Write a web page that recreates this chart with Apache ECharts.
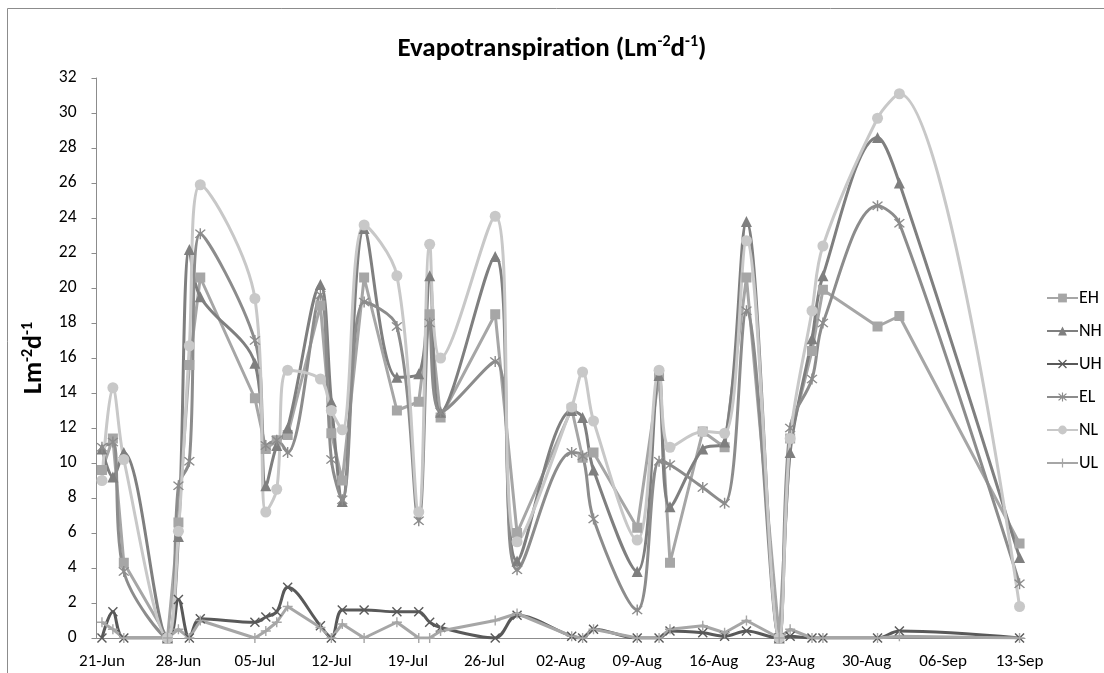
<!DOCTYPE html>
<html>
<head>
<meta charset="utf-8">
<script src="https://cdn.jsdelivr.net/npm/echarts@6/dist/echarts.min.js"></script>
<style>
  html, body { margin: 0; padding: 0; background: #ffffff; }
  #chart { width: 1104px; height: 673px; }
</style>
</head>
<body>
<div id="chart"></div>
<script>
// Sampling dates (day-month) and daily evapotranspiration per treatment, L m-2 d-1
const sampleDates = ['21-Jun','22-Jun','23-Jun','27-Jun','28-Jun','29-Jun','30-Jun',
  '05-Jul','06-Jul','07-Jul','08-Jul','11-Jul','12-Jul','13-Jul','15-Jul','18-Jul',
  '20-Jul','21-Jul','22-Jul','27-Jul','29-Jul','03-Aug','04-Aug','05-Aug','09-Aug',
  '11-Aug','12-Aug','15-Aug','17-Aug','19-Aug','22-Aug','23-Aug','25-Aug','26-Aug',
  '31-Aug','02-Sep','13-Sep'];

const EH = [9.6, 11.4, 4.3, 0, 6.6, 15.6, 20.6,
  13.7, 10.8, 11.3, 11.6, 19.0, 11.7, 9.0, 20.6, 13.0,
  13.5, 18.5, 12.6, 18.5, 6.0, 13.1, 10.3, 10.6, 6.3,
  15.0, 4.3, 11.8, 10.9, 20.6, 0, 11.4, 16.4, 19.9,
  17.8, 18.4, 5.4];
const NH = [10.8, 9.2, 10.6, 0, 5.8, 22.2, 19.5,
  15.7, 8.7, 11.0, 12.0, 20.2, 13.5, 7.8, 23.4, 14.9,
  15.1, 20.7, 12.9, 21.8, 4.4, 13.0, 12.6, 9.6, 3.8,
  15.0, 7.5, 10.8, 11.2, 23.8, 0, 10.6, 17.1, 20.7,
  28.6, 26.0, 4.6];
const UH = [0, 1.5, 0, 0, 2.2, 0, 1.1,
  0.9, 1.2, 1.5, 2.9, 0.7, 0, 1.6, 1.6, 1.5,
  1.5, 0.9, 0.6, 0, 1.3, 0.1, 0, 0.5, 0,
  0, 0.4, 0.3, 0.1, 0.4, 0, 0.1, 0, 0,
  0, 0.4, 0];
const EL = [10.9, 11.2, 3.8, 0, 8.7, 10.1, 23.1,
  17.0, 11.0, 11.3, 10.6, 19.6, 10.2, 7.9, 19.2, 17.8,
  6.7, 18.0, 12.9, 15.8, 3.9, 10.6, 10.4, 6.8, 1.6,
  10.1, 9.9, 8.6, 7.7, 18.7, 0, 12.0, 14.8, 18.0,
  24.7, 23.7, 3.1];
const NL = [9.0, 14.3, 10.2, 0, 6.1, 16.7, 25.9,
  19.4, 7.2, 8.5, 15.3, 14.8, 13.0, 11.9, 23.6, 20.7,
  7.2, 22.5, 16.0, 24.1, 5.5, 13.2, 15.2, 12.4, 5.6,
  15.3, 10.9, 11.8, 11.7, 22.7, 0, 11.4, 18.7, 22.4,
  29.7, 31.1, 1.8];
const UL = [0.9, 0.5, 0, 0, 0.5, 0, 1.0,
  0, 0.4, 0.9, 1.8, 0.6, 0, 0.8, 0, 0.9,
  0, 0, 0.4, 1.0, 1.4, 0.1, 0, 0.5, 0,
  0, 0.5, 0.7, 0.3, 1.0, 0, 0.5, 0, 0,
  0, 0.1, 0];

const yTicks = { min: 0, max: 32, step: 2 };

// Daily category axis: one slot per day from the first to the last sampling date
const MONTHS = ['Jan','Feb','Mar','Apr','May','Jun','Jul','Aug','Sep','Oct','Nov','Dec'];
function dayLabel(dt) {
  const d = dt.getUTCDate();
  return (d < 10 ? '0' + d : '' + d) + '-' + MONTHS[dt.getUTCMonth()];
}
const axisDays = [];
(function () {
  const start = Date.UTC(2001, 5, 21);
  const end = Date.UTC(2001, 8, 13);
  for (let t = start; t <= end; t += 86400000) axisDays.push(dayLabel(new Date(t)));
})();

// Marker shapes drawn as filled outlines
const SYM_X = 'path://M1,0 L5,4 L9,0 L10,1 L6,5 L10,9 L9,10 L5,6 L1,10 L0,9 L4,5 L0,1 Z';
const SYM_STAR = 'path://M1,0 L5,4 L9,0 L10,1 L6,5 L10,9 L9,10 L5,6 L1,10 L0,9 L4,5 L0,1 Z M4.35,-1 L5.65,-1 L5.65,11 L4.35,11 Z';
const SYM_PLUS = 'path://M4.3,0 L5.7,0 L5.7,4.3 L10,4.3 L10,5.7 L5.7,5.7 L5.7,10 L4.3,10 L4.3,5.7 L0,5.7 L0,4.3 L4.3,4.3 Z';

const FONT = 'Carlito, Calibri, Lato, "Open Sans", sans-serif';

function lineSeries(name, values, symbol, size, color, smooth) {
  return {
    name: name,
    type: 'line',
    data: sampleDates.map(function (d, i) { return [d, values[i]]; }),
    symbol: symbol,
    symbolSize: size,
    showSymbol: true,
    showAllSymbol: true,
    smooth: smooth ? 0.35 : false,
    lineStyle: { width: 3, color: color },
    itemStyle: { color: color, borderWidth: 0 },
    emphasis: { disabled: true },
    animation: false
  };
}

const chart = echarts.init(document.getElementById('chart'), null, { renderer: 'canvas' });

chart.setOption({
  backgroundColor: '#ffffff',
  animation: false,
  textStyle: { fontFamily: FONT },
  title: {
    text: '{t|Evapotranspiration (Lm}{s|-2}{t|d}{s|-1}{t|)}',
    left: 'center',
    top: 29,
    textStyle: {
      fontFamily: FONT,
      rich: {
        t: { fontSize: 27, fontWeight: 'bold', color: '#000', fontFamily: FONT, lineHeight: 31 },
        s: { fontSize: 16, fontWeight: 'bold', color: '#000', fontFamily: FONT, verticalAlign: 'top', lineHeight: 17 }
      }
    }
  },
  legend: {
    orient: 'vertical',
    left: 1041,
    top: 284,
    itemWidth: 31,
    itemHeight: 11,
    itemGap: 15,
    textStyle: { fontSize: 18, color: '#000', fontFamily: FONT, padding: [0, 0, 0, -4] },
    data: ['EH', 'NH', 'UH', 'EL', 'NL', 'UL']
  },
  graphic: [{
    type: 'rect',
    shape: { x: 7.5, y: 8.5, width: 1200, height: 800 },
    style: { fill: null, stroke: '#8c8c8c', lineWidth: 1 },
    silent: true,
    z: -10
  }],
  grid: { left: 96.5, right: 79, top: 78, bottom: 35, containLabel: false },
  xAxis: {
    type: 'category',
    data: axisDays,
    boundaryGap: true,
    axisLine: { show: true, lineStyle: { color: '#8c8c8c', width: 1 } },
    axisTick: { show: false },
    splitLine: { show: false },
    axisLabel: {
      interval: function (index) { return index % 7 === 0; },
      fontSize: 17,
      color: '#000',
      fontFamily: FONT,
      margin: 15
    }
  },
  yAxis: {
    type: 'value',
    min: yTicks.min,
    max: yTicks.max,
    interval: yTicks.step,
    name: '{b|Lm}{s|-2}{b|d}{s|-1}',
    nameLocation: 'middle',
    nameRotate: 90,
    nameGap: 27,
    nameTextStyle: {
      rich: {
        b: { fontSize: 26, fontWeight: 'bold', color: '#000', fontFamily: FONT, lineHeight: 30 },
        s: { fontSize: 16, fontWeight: 'bold', color: '#000', fontFamily: FONT, verticalAlign: 'top', lineHeight: 17 }
      }
    },
    axisLine: { show: true, lineStyle: { color: '#8c8c8c', width: 1 } },
    axisTick: { show: true, length: 5, lineStyle: { color: '#8c8c8c' } },
    splitLine: { show: false },
    axisLabel: { fontSize: 17.5, color: '#000', fontFamily: FONT, margin: 20 }
  },
  series: [
    lineSeries('EH', EH, 'rect', 10, '#a6a6a6', false),
    lineSeries('NH', NH, 'triangle', 11, '#7f7f7f', true),
    lineSeries('UH', UH, SYM_X, 10, '#595959', true),
    lineSeries('EL', EL, SYM_STAR, 11, '#8c8c8c', true),
    lineSeries('NL', NL, 'circle', 11, '#c8c8c8', true),
    lineSeries('UL', UL, SYM_PLUS, 10, '#a6a6a6', false)
  ]
});
</script>
</body>
</html>
